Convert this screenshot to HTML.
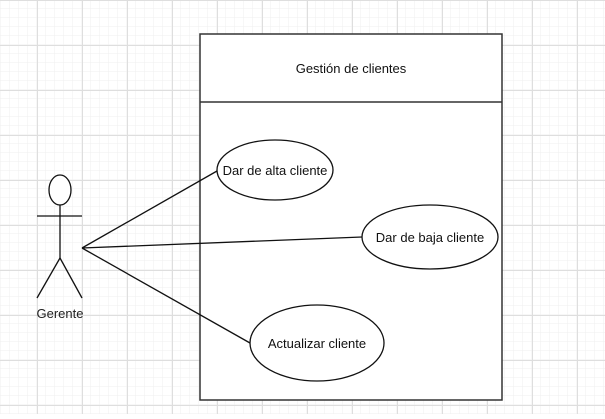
<!DOCTYPE html>
<html><head><style>
body{margin:0;width:605px;height:414px;overflow:hidden;background:#fff}
</style></head><body>
<svg width="605" height="414" xmlns="http://www.w3.org/2000/svg" font-family="Liberation Sans, Arial, sans-serif">
<defs>
<pattern id="minor" width="9" height="9" patternUnits="userSpaceOnUse" x="1" y="0">
<path d="M9 0V9M0 9H9" stroke="#efefef" stroke-width="1" fill="none"/>
</pattern>
<pattern id="major" width="45" height="45" patternUnits="userSpaceOnUse" x="37" y="0">
<path d="M0.5 0V45M0 0.5H45" stroke="#dedede" stroke-width="1" fill="none"/>
</pattern>
</defs>
<rect width="605" height="414" fill="url(#minor)"/>
<rect width="605" height="414" fill="url(#major)"/>
<rect x="200" y="34" width="302" height="366" fill="#fff" stroke="#333" stroke-width="1.5"/>
<line x1="200" y1="102" x2="502" y2="102" stroke="#333" stroke-width="1.5"/>
<text x="351" y="73" font-size="13" text-anchor="middle" fill="#111">Gestión de clientes</text>
<g stroke="#111" stroke-width="1.3" fill="none">
<ellipse cx="60" cy="190" rx="11" ry="15" fill="#fff"/>
<line x1="37" y1="216" x2="82" y2="216"/>
<line x1="60" y1="205" x2="60" y2="258"/>
<line x1="60" y1="258" x2="37" y2="298"/>
<line x1="60" y1="258" x2="82" y2="298"/>
<line x1="82" y1="248" x2="217" y2="171"/>
<line x1="82" y1="248" x2="362" y2="237"/>
<line x1="82" y1="248" x2="250" y2="343"/>
<ellipse cx="275" cy="170" rx="58" ry="30" fill="#fff"/>
<ellipse cx="430" cy="237" rx="68" ry="32" fill="#fff"/>
<ellipse cx="317" cy="343" rx="67" ry="38" fill="#fff"/>
</g>
<text x="60" y="318" font-size="13" text-anchor="middle" fill="#222">Gerente</text>
<text x="275" y="175" font-size="13" text-anchor="middle" fill="#111">Dar de alta cliente</text>
<text x="430" y="242" font-size="13" text-anchor="middle" fill="#111">Dar de baja cliente</text>
<text x="317" y="348" font-size="13" text-anchor="middle" fill="#111">Actualizar cliente</text>
</svg>
</body></html>
